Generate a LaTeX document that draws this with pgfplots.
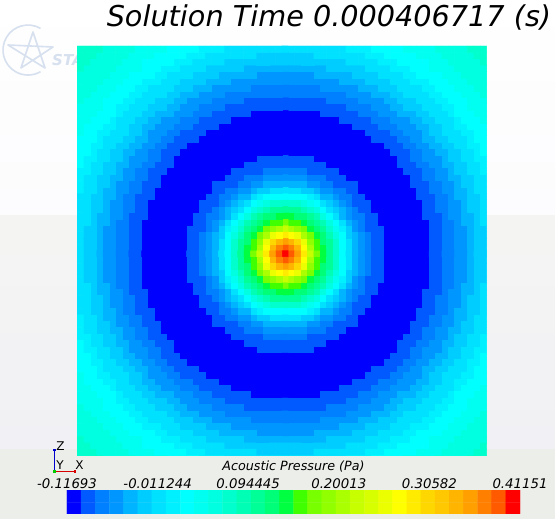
\documentclass[border=0pt]{standalone}
\usepackage{fontspec}
\setmainfont{DejaVu Sans}
\usepackage{pgfplots}
\usepackage{pgfplotstable}
\pgfplotsset{compat=1.18}
\definecolor{logoc}{RGB}{214,224,238}
\definecolor{bgA}{RGB}{252,251,253}
\definecolor{bgB}{RGB}{244,245,243}
\definecolor{bgC}{RGB}{241,240,244}
\definecolor{bgD}{RGB}{236,238,234}
\pgfplotsset{colormap={star}{rgb255=(0,0,255) rgb255=(0,90,255) rgb255=(0,128,255) rgb255=(0,150,255)
 rgb255=(0,180,255) rgb255=(0,205,255) rgb255=(0,225,255) rgb255=(0,240,255)
 rgb255=(0,255,255) rgb255=(0,255,240) rgb255=(0,255,225) rgb255=(0,255,205)
 rgb255=(0,255,180) rgb255=(0,255,150) rgb255=(0,255,120) rgb255=(0,255,64)
 rgb255=(64,255,0) rgb255=(120,255,0) rgb255=(145,255,0) rgb255=(170,255,0)
 rgb255=(200,255,0) rgb255=(215,255,0) rgb255=(235,255,0) rgb255=(255,255,0)
 rgb255=(255,235,0) rgb255=(255,215,0) rgb255=(255,200,0) rgb255=(255,180,0)
 rgb255=(255,160,0) rgb255=(255,128,0) rgb255=(255,90,0) rgb255=(255,0,0)}}
% Colour-band index of the field, one quadrant around the peak (33 x 33 cells, row by row)
\pgfplotstableread[row sep=\\]{l\\
31\\30\\28\\24\\20\\17\\15\\13\\11\\8\\6\\4\\3\\2\\1\\1\\0\\0\\0\\0\\0\\0\\0\\1\\1\\2\\2\\3\\3\\4\\5\\5\\6\\
30\\29\\27\\23\\19\\16\\15\\13\\11\\8\\6\\4\\3\\2\\1\\1\\0\\0\\0\\0\\0\\0\\0\\1\\1\\2\\2\\3\\3\\4\\5\\5\\6\\
28\\27\\25\\22\\18\\16\\14\\13\\11\\8\\6\\4\\3\\2\\1\\1\\0\\0\\0\\0\\0\\0\\0\\1\\1\\2\\2\\3\\3\\4\\5\\5\\6\\
24\\23\\22\\19\\17\\15\\14\\12\\10\\8\\5\\4\\3\\2\\1\\1\\0\\0\\0\\0\\0\\0\\0\\1\\1\\2\\2\\3\\3\\4\\5\\5\\6\\
20\\19\\18\\17\\15\\14\\13\\11\\9\\7\\5\\3\\2\\1\\1\\1\\0\\0\\0\\0\\0\\0\\0\\1\\1\\2\\2\\3\\3\\4\\5\\5\\6\\
17\\16\\16\\15\\14\\13\\12\\10\\8\\6\\4\\3\\2\\1\\1\\0\\0\\0\\0\\0\\0\\0\\0\\1\\1\\2\\2\\3\\4\\4\\5\\6\\6\\
15\\15\\14\\14\\13\\12\\10\\8\\6\\4\\3\\2\\2\\1\\1\\0\\0\\0\\0\\0\\0\\0\\1\\1\\1\\2\\3\\3\\4\\4\\5\\6\\6\\
13\\13\\13\\12\\11\\10\\8\\6\\5\\4\\3\\2\\1\\1\\0\\0\\0\\0\\0\\0\\0\\0\\1\\1\\2\\2\\3\\3\\4\\5\\5\\6\\6\\
11\\11\\11\\10\\9\\8\\6\\5\\4\\3\\2\\1\\1\\1\\0\\0\\0\\0\\0\\0\\0\\0\\1\\1\\2\\2\\3\\3\\4\\5\\5\\6\\6\\
8\\8\\8\\8\\7\\6\\4\\4\\3\\2\\2\\1\\1\\0\\0\\0\\0\\0\\0\\0\\0\\1\\1\\1\\2\\2\\3\\4\\4\\5\\5\\6\\6\\
6\\6\\6\\5\\5\\4\\3\\3\\2\\2\\1\\1\\0\\0\\0\\0\\0\\0\\0\\0\\0\\1\\1\\2\\2\\3\\3\\4\\4\\5\\6\\6\\7\\
4\\4\\4\\4\\3\\3\\2\\2\\1\\1\\1\\1\\0\\0\\0\\0\\0\\0\\0\\0\\1\\1\\1\\2\\2\\3\\3\\4\\5\\5\\6\\6\\7\\
3\\3\\3\\3\\2\\2\\2\\1\\1\\1\\0\\0\\0\\0\\0\\0\\0\\0\\0\\0\\1\\1\\2\\2\\3\\3\\4\\4\\5\\5\\6\\6\\7\\
2\\2\\2\\2\\1\\1\\1\\1\\1\\0\\0\\0\\0\\0\\0\\0\\0\\0\\0\\1\\1\\1\\2\\2\\3\\3\\4\\5\\5\\6\\6\\7\\7\\
1\\1\\1\\1\\1\\1\\1\\0\\0\\0\\0\\0\\0\\0\\0\\0\\0\\0\\1\\1\\1\\2\\2\\3\\3\\4\\4\\5\\5\\6\\6\\7\\8\\
1\\1\\1\\1\\1\\0\\0\\0\\0\\0\\0\\0\\0\\0\\0\\0\\0\\0\\1\\1\\2\\2\\3\\3\\3\\4\\5\\5\\6\\6\\7\\7\\8\\
0\\0\\0\\0\\0\\0\\0\\0\\0\\0\\0\\0\\0\\0\\0\\0\\0\\1\\1\\1\\2\\2\\3\\3\\4\\4\\5\\5\\6\\6\\7\\8\\8\\
0\\0\\0\\0\\0\\0\\0\\0\\0\\0\\0\\0\\0\\0\\0\\0\\1\\1\\1\\2\\2\\3\\3\\4\\4\\5\\5\\6\\6\\7\\7\\8\\8\\
0\\0\\0\\0\\0\\0\\0\\0\\0\\0\\0\\0\\0\\0\\1\\1\\1\\1\\2\\2\\3\\3\\4\\4\\5\\5\\6\\6\\6\\7\\8\\8\\8\\
0\\0\\0\\0\\0\\0\\0\\0\\0\\0\\0\\0\\0\\1\\1\\1\\1\\2\\2\\3\\3\\3\\4\\5\\5\\6\\6\\6\\7\\7\\8\\8\\9\\
0\\0\\0\\0\\0\\0\\0\\0\\0\\0\\0\\1\\1\\1\\1\\2\\2\\2\\3\\3\\3\\4\\4\\5\\5\\6\\6\\7\\7\\8\\8\\8\\9\\
0\\0\\0\\0\\0\\0\\0\\0\\0\\1\\1\\1\\1\\1\\2\\2\\2\\3\\3\\3\\4\\4\\5\\5\\6\\6\\6\\7\\8\\8\\8\\9\\9\\
0\\0\\0\\0\\0\\0\\1\\1\\1\\1\\1\\1\\2\\2\\2\\3\\3\\3\\4\\4\\4\\5\\5\\6\\6\\6\\7\\8\\8\\8\\9\\9\\9\\
1\\1\\1\\1\\1\\1\\1\\1\\1\\1\\2\\2\\2\\2\\3\\3\\3\\4\\4\\5\\5\\5\\6\\6\\6\\7\\7\\8\\8\\9\\9\\9\\9\\
1\\1\\1\\1\\1\\1\\1\\2\\2\\2\\2\\2\\3\\3\\3\\3\\4\\4\\5\\5\\5\\6\\6\\6\\7\\7\\8\\8\\8\\9\\9\\9\\10\\
2\\2\\2\\2\\2\\2\\2\\2\\2\\2\\3\\3\\3\\3\\4\\4\\4\\5\\5\\6\\6\\6\\6\\7\\7\\8\\8\\8\\9\\9\\9\\10\\10\\
2\\2\\2\\2\\2\\2\\3\\3\\3\\3\\3\\3\\4\\4\\4\\5\\5\\5\\6\\6\\6\\6\\7\\7\\8\\8\\8\\9\\9\\9\\10\\10\\10\\
3\\3\\3\\3\\3\\3\\3\\3\\3\\4\\4\\4\\4\\5\\5\\5\\5\\6\\6\\6\\7\\7\\7\\8\\8\\8\\9\\9\\9\\10\\10\\10\\10\\
3\\3\\3\\3\\3\\4\\4\\4\\4\\4\\4\\5\\5\\5\\5\\6\\6\\6\\6\\7\\7\\8\\8\\8\\8\\9\\9\\9\\10\\10\\10\\10\\10\\
4\\4\\4\\4\\4\\4\\4\\5\\5\\5\\5\\5\\5\\6\\6\\6\\6\\7\\7\\7\\8\\8\\8\\9\\9\\9\\9\\10\\10\\10\\10\\10\\11\\
5\\5\\5\\5\\5\\5\\5\\5\\5\\5\\6\\6\\6\\6\\6\\7\\7\\7\\8\\8\\8\\8\\8\\9\\9\\9\\10\\10\\10\\10\\10\\11\\11\\
5\\5\\5\\5\\5\\6\\6\\6\\6\\6\\6\\6\\6\\7\\7\\7\\8\\8\\8\\8\\8\\9\\9\\9\\9\\10\\10\\10\\10\\10\\11\\11\\11\\
6\\6\\6\\6\\6\\6\\6\\6\\6\\6\\7\\7\\7\\7\\8\\8\\8\\8\\8\\9\\9\\9\\9\\9\\10\\10\\10\\10\\10\\11\\11\\11\\11\\
}\fieldtable
\begin{document}
\begin{tikzpicture}
\begin{scope}[x=1pt,y=1pt]
\path[use as bounding box] (0,0) rectangle (555,519);
% window background
\shade[top color=white,bottom color=bgA] (0,303) rectangle (555,519);
\shade[top color=bgB,bottom color=bgC] (0,70) rectangle (555,303);
\fill[bgD] (0,0) rectangle (555,70);
% watermark
\draw[logoc,line width=1.6pt] (40.5,490.6) arc[start angle=60,end angle=300,radius=25];
\draw[logoc,line width=1.6pt,line join=round] (33,487) -- (21,451) -- (53,472) -- (8,474) -- (45,451) -- cycle;
\node[logoc,font=\fontsize{15}{17}\selectfont\bfseries\itshape,anchor=west,inner sep=0pt] at (52,459) {STAR};
\end{scope}
% field
\begin{axis}[at={(77pt,63.4pt)},anchor=south west,scale only axis,width=409.6pt,height=409.6pt,
 hide axis,xmin=-32.5,xmax=31.5,ymin=-31.5,ymax=32.5,
 colormap name=star,point meta min=0,point meta max=31]
\addplot[matrix plot*,mesh/cols=33,point meta=\thisrow{l}] table[x index=0,y index=0,x expr={mod(\coordindex,33)},y expr={floor((\coordindex+0.5)/33)}] {\fieldtable};
\addplot[matrix plot*,mesh/cols=33,point meta=\thisrow{l}] table[x index=0,y index=0,x expr={-mod(\coordindex,33)},y expr={floor((\coordindex+0.5)/33)}] {\fieldtable};
\addplot[matrix plot*,mesh/cols=33,point meta=\thisrow{l}] table[x index=0,y index=0,x expr={mod(\coordindex,33)},y expr={-floor((\coordindex+0.5)/33)}] {\fieldtable};
\addplot[matrix plot*,mesh/cols=33,point meta=\thisrow{l}] table[x index=0,y index=0,x expr={-mod(\coordindex,33)},y expr={-floor((\coordindex+0.5)/33)}] {\fieldtable};
\end{axis}
% colour bar
\begin{axis}[at={(67pt,5pt)},anchor=south west,scale only axis,width=453pt,height=23pt,
 xmin=-0.5,xmax=31.5,ymin=0,ymax=1,axis line style={draw=none},major tick length=0pt,
 ymajorticks=false,xticklabel pos=upper,
 xtick={-0.5,5.9,12.3,18.7,25.1,31.5},
 xticklabels={-0.11693,-0.011244,0.094445,0.20013,0.30582,0.41151},
 xticklabel style={font=\fontsize{13.3}{15}\selectfont\itshape,anchor=base,yshift=2pt,inner sep=0pt},
 colormap name=star,point meta min=0,point meta max=31]
\addplot[matrix plot*,mesh/cols=32,point meta=\thisrow{l}] table[row sep=\\,x index=0,y index=0,x expr={mod(\coordindex,32)},y expr={floor((\coordindex+0.5)/32)}] {l\\
0\\1\\2\\3\\4\\5\\6\\7\\8\\9\\10\\11\\12\\13\\14\\15\\16\\17\\18\\19\\20\\21\\22\\23\\24\\25\\26\\27\\28\\29\\30\\31\\
0\\1\\2\\3\\4\\5\\6\\7\\8\\9\\10\\11\\12\\13\\14\\15\\16\\17\\18\\19\\20\\21\\22\\23\\24\\25\\26\\27\\28\\29\\30\\31\\
};
\end{axis}
\begin{scope}[x=1pt,y=1pt]
% title and labels
\node[font=\fontsize{28.7}{30}\selectfont\itshape,inner sep=0pt] at (329,502) {Solution Time 0.000406717 (s)};
\node[font=\fontsize{12.7}{14}\selectfont\itshape,inner sep=0pt] at (293.5,52) {Acoustic Pressure (Pa)};
% coordinate triad
\draw[blue!80!black,line width=0.9pt] (54.3,47.7) -- (54.3,69);
\draw[red!85!black,line width=0.9pt] (54.3,47.7) -- (75,47.7);
\fill[blue!80!black] (53,67.5) rectangle (55.6,70);
\fill[red!85!black] (73.5,46.4) rectangle (76,49);
\fill[green!80!black] (52.8,46.2) rectangle (55.8,49.2);
\node[font=\fontsize{12}{13}\selectfont,inner sep=0pt] at (60.5,73) {Z};
\node[font=\fontsize{12}{13}\selectfont,inner sep=0pt] at (60,54) {Y};
\node[font=\fontsize{12}{13}\selectfont,inner sep=0pt] at (79.5,54) {X};
\end{scope}
\end{tikzpicture}
\end{document}
